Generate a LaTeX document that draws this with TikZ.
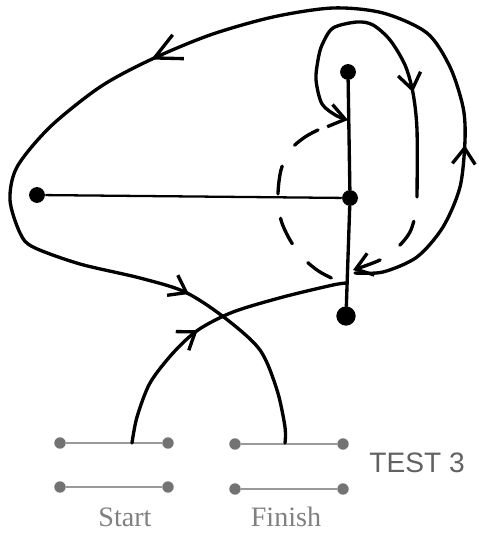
\documentclass[tikz,border=0pt]{standalone}
\usepackage{fontspec}
\setmainfont{Liberation Serif}
\setsansfont{Liberation Sans}
\usetikzlibrary{arrows.meta,decorations.markings}

\begin{document}
\begin{tikzpicture}[x=0.02cm,y=-0.02cm,
    >={Straight Barb[length=9pt,width=13pt]},
    rope/.style={line width=1.9pt,line cap=round,line join=round},
    hidden/.style={rope,dash pattern=on 16pt off 14pt},
    dot/.style={circle,fill,inner sep=0pt,minimum size=9pt},
    endpt/.style={circle,fill=black!55,inner sep=0pt,minimum size=6.5pt},
    wire/.style={black!40,line width=1.3pt},
    lbl/.style={text=black!50,font=\fontsize{16}{18}\selectfont,anchor=base}]
    \useasboundingbox (0,0) rectangle (478,533);

    % the three points on the rod and the one on the left
    \node[dot] (top) at (348,72) {};
    \node[dot] (mid) at (350,198) {};
    \node[dot,minimum size=11pt] (bot) at (346,316) {};
    \node[dot] (lft) at (37,195) {};
    \draw[rope] (top) -- (mid) -- (bot);
    \draw[line width=1.3pt] (lft) -- (mid);

    % bars at the bottom
    \foreach \n/\xa/\xb/\y in {st/60/168/443, sb/60/168/487, ft/235/343/444, fb/235/343/489}{
      \node[endpt] (\n-l) at (\xa,\y) {};
      \node[endpt] (\n-r) at (\xb,\y) {};
      \draw[wire] (\n-l) -- (\n-r);
    }

    \coordinate (s0) at (132,443);
    \coordinate (s1) at (347,283);
    \coordinate (f0) at (285,443);
    \coordinate (o0) at (355,273);
    \coordinate (i0) at (348,120);
    \coordinate (i1) at (417,197);
    \coordinate (d0) at (353,270);
    \coordinate (h0) at (318,130);
    \coordinate (h1) at (346,285);

    % start rope
    \draw[rope,postaction={decorate},decoration={markings,mark=at position 0.46 with {\arrow{>}}}]
      plot[smooth] coordinates {(s0) (137,417) (150,383) (173,353) (198,330) (233,312) (283,297) (333,285) (s1)};

    % big loop, ends at finish
    \draw[rope,postaction={decorate},decoration={markings,
        mark=at position 0.157 with {\arrow{>}},
        mark=at position 0.495 with {\arrow{Straight Barb[length=15pt,width=15pt]}},
        mark=at position 0.845 with {\arrow{>}}}]
      plot[smooth] coordinates {(o0) (383,272) (417,257) (443,227) (460,187) (465,140) (463,107) (450,67)
        (427,33) (383,13) (333,8) (273,17) (210,35) (150,60) (100,87) (50,127) (17,167) (10,200)
        (20,233) (33,247) (80,264) (140,278) (185,292) (225,318) (260,350) (277,390) (285,427) (f0)};

    % small loop round the top point
    \draw[rope,<-,postaction={decorate},decoration={markings,mark=at position 0.69 with {\arrow{>}}}]
      plot[smooth] coordinates {(i0) (337,116) (322,104) (316,80) (318,60) (322,45) (333,28) (357,22)
        (373,25) (390,40) (405,65) (413,93) (417,130) (i1)};
    \draw[hidden,dash phase=16pt,->]
      plot[smooth] coordinates {(i1) (416,212) (410,232) (398,247) (380,260) (d0)};

    % dashed arc behind the rod
    \draw[hidden]
      plot[smooth] coordinates {(h0) (305,137) (290,150) (281,170) (278,195) (281,220) (290,240) (303,258) (320,272) (h1)};

    \node[lbl] (start) at (125,526) {Start};
    \node[lbl] (finish) at (286,526) {Finish};
    \node[font=\sffamily\fontsize{16}{18}\selectfont,text=black!62,anchor=base] (test) at (417,472) {TEST 3};
\end{tikzpicture}
\end{document}
